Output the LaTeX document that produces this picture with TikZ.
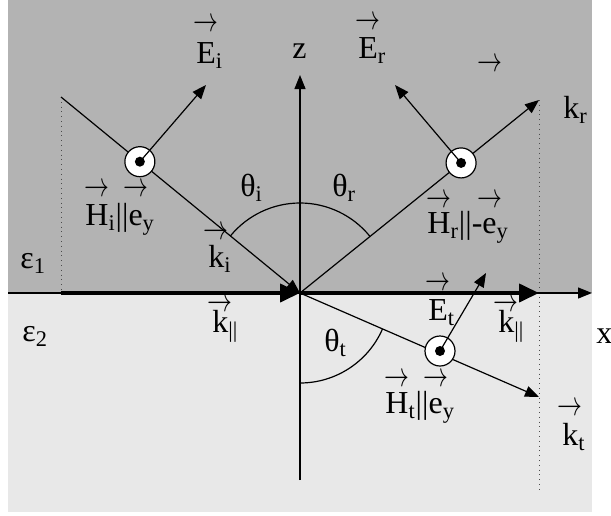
\documentclass[tikz,border=0pt]{standalone}
\usepackage{fontspec}
\setmainfont{Liberation Serif}
\usepackage{graphicx}
\usetikzlibrary{arrows.meta,calc}
\definecolor{upper}{HTML}{B3B3B3}
\definecolor{lower}{HTML}{E8E8E8}
\newcommand\varr{\scalebox{0.72}[1]{$\rightarrow$}}
\newcommand\vc[2]{\ooalign{#2\cr\hidewidth\raisebox{#1}{\varr}\hidewidth\cr}}
\tikzset{
  every node/.style={font=\fontsize{16}{19}\selectfont},
  lbl/.style={anchor=base west,inner sep=0},
  ray/.style={line width=.6pt,-{Triangle[length=7pt,width=5.5pt]}},
  kpar/.style={line width=2pt,-{Triangle[length=10pt,width=9pt]}},
  hdot/.style={circle,draw,line width=.6pt,fill=white,minimum size=15pt,inner sep=0},
  guide/.style={dotted,line width=.4pt,draw=black!70}
}

\begin{document}
\begin{tikzpicture}[x=.5pt,y=-.5pt]
  \useasboundingbox (0,0) rectangle (611,515);
  % media
  \fill[upper] (8,0) rectangle (592,293);
  \fill[lower] (8,293) rectangle (592,512);

  \coordinate (O) at (300,293);
  \coordinate (ki0) at (61,97);
  \coordinate (kr1) at (539,100);
  \coordinate (kt1) at (539,397);
  \coordinate (kp0) at (61,293);
  \coordinate (kp1) at (539,293);
  \coordinate (gend) at (539,490);
  \coordinate (xl) at (8,293);
  \coordinate (xr) at (592,293);
  \coordinate (zb) at (300,480);
  \coordinate (zt) at (300,75);
  \coordinate (Eitip) at (206,85);
  \coordinate (Ertip) at (395,85);
  \coordinate (Ettip) at (486,273);

  % guides and axes
  \draw[guide] (ki0) -- (kp0);
  \draw[guide] (kr1) -- (gend);
  \draw[ray] (xl) -- (xr);
  \draw[ray] (zb) -- (zt);

  % rays
  \draw[ray] (ki0) -- (O);
  \draw[ray] (O) -- (kr1);
  \draw[ray] (O) -- (kt1);
  \draw[kpar] (kp0) -- (O);
  \draw[kpar] (O) -- (kp1);

  % angles
  \draw[line width=.6pt] ($(O)+(219.4:90)$) arc[start angle=219.4,end angle=270,radius=90];
  \draw[line width=.6pt] ($(O)+(270:90)$) arc[start angle=270,end angle=321.1,radius=90];
  \draw[line width=.6pt] ($(O)+(23.5:90)$) arc[start angle=23.5,end angle=90,radius=90];

  % H fields out of the plane
  \node[hdot] (hi) at ($(ki0)!.33!(O)$) {};
  \node[hdot] (hr) at ($(O)!.674!(kr1)$) {};
  \node[hdot] (ht) at (440,351) {};
  \foreach \h in {hi,hr,ht} {\fill (\h.center) circle[radius=5];}

  % E fields
  \draw[ray] (hi.center) -- (Eitip);
  \draw[ray] (hr.center) -- (Ertip);
  \draw[ray] (ht.center) -- (Ettip);

  % labels
  \node[lbl] (zlab) at (292,58) {z};
  \node[lbl] (xlab) at (596,343) {x};
  \node[lbl] (eps1) at (20,268) {ε\textsubscript{1}};
  \node[lbl] (eps2) at (22,341) {ε\textsubscript{2}};
  \node[lbl] (Ei) at (196,63) {\vc{16pt}{E}\textsubscript{i}};
  \node[lbl] (Er) at (358,58) {\vc{14.5pt}{E}\textsubscript{r}};
  \node[lbl] (Et) at (428,320) {\vc{15pt}{E}\textsubscript{t}};
  \node[lbl] (Hi) at (85,225) {\vc{14.5pt}{H}\textsubscript{i}||\vc{14.5pt}{e}\textsubscript{y}};
  \node[lbl] (Hr) at (427,233) {\vc{13pt}{H}\textsubscript{r}||-\vc{13pt}{e}\textsubscript{y}};
  \node[lbl] (Ht) at (385,413) {\vc{13.5pt}{H}\textsubscript{t}||\vc{13.5pt}{e}\textsubscript{y}};
  \node[lbl] (ki) at (208,267) {\vc{14pt}{k}\textsubscript{i}};
  \node[lbl] (kr) at (563,118) {k\textsubscript{r}};
  \node[lbl] (krarr) at (477,71) {\varr};
  \node[lbl] (kt) at (562,445) {\vc{15pt}{k}\textsubscript{t}};
  \node[lbl] (kpl) at (212,332) {\vc{10.5pt}{k}\textsubscript{||}};
  \node[lbl] (kpr) at (498,332) {\vc{10.5pt}{k}\textsubscript{||}};
  \node[lbl] (thi) at (240,196) {θ\textsubscript{i}};
  \node[lbl] (thr) at (332,196) {θ\textsubscript{r}};
  \node[lbl] (tht) at (324,351) {θ\textsubscript{t}};
\end{tikzpicture}
\end{document}
